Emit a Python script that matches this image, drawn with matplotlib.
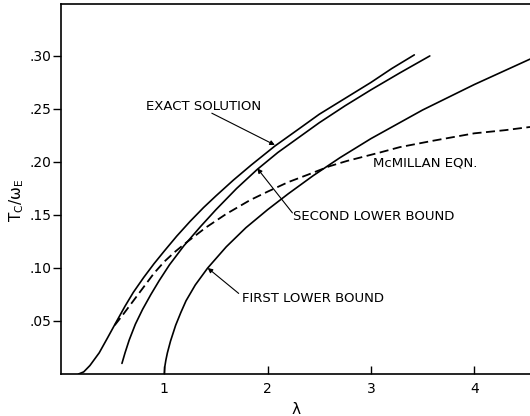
import matplotlib
matplotlib.use("Agg")
import matplotlib.pyplot as plt

# Exact solution
exact_x = [0.17, 0.22, 0.28, 0.37, 0.45, 0.54, 0.62, 0.70, 0.80, 0.90, 1.00, 1.12, 1.25, 1.38, 1.50,
           1.67, 1.84, 2.07, 2.30, 2.50, 2.75, 3.00, 3.20, 3.42]
exact_y = [0.000, 0.002, 0.008, 0.020, 0.034, 0.050, 0.064, 0.077, 0.091, 0.104, 0.116, 0.130, 0.144,
           0.157, 0.168, 0.183, 0.197, 0.215, 0.231, 0.245, 0.260, 0.275, 0.288, 0.301]

# Second lower bound
second_x = [0.59, 0.62, 0.66, 0.72, 0.79, 0.87, 0.95, 1.05, 1.19, 1.35, 1.50, 1.70, 1.90, 2.10,
            2.30, 2.50, 2.75, 3.00, 3.28, 3.57]
second_y = [0.010, 0.020, 0.032, 0.047, 0.061, 0.075, 0.088, 0.103, 0.121, 0.139, 0.155, 0.175, 0.193,
            0.209, 0.223, 0.237, 0.253, 0.268, 0.284, 0.300]

# First lower bound
first_x = [1.00, 1.005, 1.015, 1.03, 1.06, 1.11, 1.16, 1.21, 1.30, 1.42, 1.60, 1.79, 2.00, 2.20, 2.44,
           2.70, 3.00, 3.50, 4.00, 4.54]
first_y = [0.000, 0.007, 0.013, 0.020, 0.031, 0.046, 0.058, 0.069, 0.084, 0.100, 0.120, 0.138, 0.155,
           0.170, 0.187, 0.204, 0.222, 0.249, 0.273, 0.297]

# McMillan equation
mcm_x = [0.52, 0.60, 0.70, 0.80, 0.90, 1.00, 1.10, 1.20, 1.40, 1.60, 1.83, 2.00, 2.20, 2.39, 2.60,
         2.77, 3.09, 3.28, 3.60, 4.00, 4.30, 4.54]
mcm_y = [0.046, 0.056, 0.069, 0.082, 0.095, 0.106, 0.115, 0.123, 0.138, 0.151, 0.164, 0.172, 0.181,
         0.188, 0.196, 0.201, 0.209, 0.214, 0.220, 0.227, 0.230, 0.233]

x_ticks = [1, 2, 3, 4]
y_ticks = [0.05, 0.10, 0.15, 0.20, 0.25, 0.30]
y_tick_labels = [".05", ".10", ".15", ".20", ".25", ".30"]

fig = plt.figure(figsize=(5.30, 4.16), dpi=100)
ax = fig.add_axes([61/530, 42/416, 469/530, 370/416])

lc = "black"
kw = dict(color=lc, lw=1.2, solid_joinstyle="round", solid_capstyle="round")
ax.plot(exact_x, exact_y, **kw)
ax.plot(second_x, second_y, **kw)
ax.plot(first_x, first_y, **kw)
ax.plot(mcm_x, mcm_y, color=lc, lw=1.3, dashes=(5, 2.5))

ax.set_xlim(0, 4.54)
ax.set_ylim(0, 0.349)
ax.set_xticks(x_ticks)
ax.set_xticklabels([str(t) for t in x_ticks])
ax.set_yticks(y_ticks)
ax.set_yticklabels(y_tick_labels)
ax.tick_params(axis="x", direction="in", length=6, width=1, labelsize=10, pad=6)
ax.tick_params(axis="y", direction="out", length=6, width=1, labelsize=10, pad=1)
ax.spines["right"].set_visible(False)
for s in ["left", "bottom", "top"]:
    ax.spines[s].set_linewidth(1.2)

ax.set_xlabel("λ", fontsize=11, labelpad=4)
fig.text(17/530, 1 - 200/416, r"T$_\mathregular{C}$/ω$_\mathregular{E}$", rotation=90,
         ha="center", va="center", fontsize=11)

fs = 9.5
ap = dict(arrowstyle="-|>", color="black", lw=0.8, mutation_scale=7, shrinkA=0, shrinkB=0)
ax.text(0.825, 0.252, "EXACT SOLUTION", fontsize=fs, va="center", ha="left")
ax.annotate("", xy=(2.07, 0.216), xytext=(1.46, 0.246), arrowprops=ap)

ax.text(2.25, 0.149, "SECOND LOWER BOUND", fontsize=fs, va="center", ha="left")
ax.annotate("", xy=(1.90, 0.194), xytext=(2.24, 0.152), arrowprops=ap)

ax.text(1.75, 0.071, "FIRST LOWER BOUND", fontsize=fs, va="center", ha="left")
ax.annotate("", xy=(1.42, 0.100), xytext=(1.72, 0.076), arrowprops=ap)

ax.text(3.02, 0.199, "McMILLAN EQN.", fontsize=fs, va="center", ha="left")

fig.savefig("out.png", dpi=100)
